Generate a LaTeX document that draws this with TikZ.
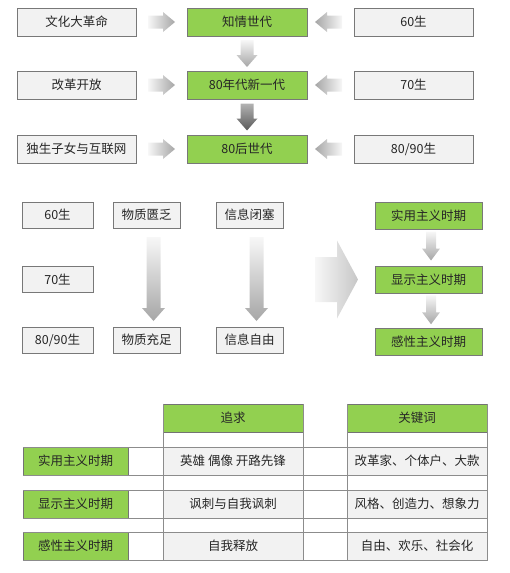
\documentclass[tikz,border=0pt]{standalone}
\usepackage{fontspec}
\setmainfont{Noto Sans CJK SC}
\usetikzlibrary{positioning,calc,shadows}
\definecolor{leaf}{RGB}{146,208,80}
\definecolor{boxline}{RGB}{120,120,120}
\definecolor{cellgray}{RGB}{242,242,242}
% block arrow: centre, rotation, length, shaft half, head half, head length, shading
\newcommand{\blockarrow}[7]{%
  \shade[#7, shift={(#1)}, rotate=#2]
    (-#3/2,-#4) -- ({#3/2-#6},-#4) -- ({#3/2-#6},-#5) -- (#3/2,0)
    -- ({#3/2-#6},#5) -- ({#3/2-#6},#4) -- (-#3/2,#4) -- cycle;}

\begin{document}
\begin{tikzpicture}[x=1pt, y=-1pt,
  font=\fontsize{12.5}{15}\selectfont, text=black!85,
  plain/.style={draw=boxline, fill=cellgray, inner sep=0pt,
    minimum width=119pt, minimum height=28pt,
    drop shadow={shadow xshift=0.8pt, shadow yshift=-0.8pt, opacity=0.3}},
  era/.style={plain, fill=leaf},
  cell/.style={draw=black!45, fill=cellgray, inner sep=0pt,
    minimum width=140pt, minimum height=28pt},
  tag/.style={cell, fill=leaf, draw=black!55},
  grid/.style={draw=black!45, line width=0.6pt},
  fadeR/.style={left color=black!3, right color=black!35},
  fadeL/.style={left color=black!35, right color=black!3},
  fadeD/.style={top color=black!3, bottom color=black!35},
  deepD/.style={top color=black!30, bottom color=black!65},
  wideR/.style={left color=black!3, right color=black!22}]
  \useasboundingbox (0,0) rectangle (510,573);

  % generations
  \node (lf1) [plain] at (76.5,22) {文化大革命};
  \node (lf2) [plain] at (76.5,85) {改革开放};
  \node (lf3) [plain] at (76.5,149) {独生子女与互联网};
  \node (gen1) [era, minimum width=120pt] at (247,22) {知情世代};
  \node (gen2) [era, minimum width=120pt] at (247,85) {80年代新一代};
  \node (gen3) [era, minimum width=120pt] at (247,149) {80后世代};
  \node (yr1) [plain] at (413.5,22) {60生};
  \node (yr2) [plain] at (413.5,85) {70生};
  \node (yr3) [plain] at (413.5,149) {80/90生};
  \foreach \i in {1,2,3} {
    \blockarrow{$(lf\i.east)!0.5!(gen\i.west)$}{0}{27}{6.5}{10}{12}{fadeR}
    \blockarrow{$(gen\i.east)!0.5!(yr\i.west)+(-2,0)$}{180}{27}{6.5}{10}{12}{fadeL}
  }
  \blockarrow{$(gen1.south)!0.5!(gen2.north)$}{-90}{27}{6.5}{10.5}{12}{fadeD}
  \blockarrow{$(gen2.south)!0.5!(gen3.north)$}{-90}{27}{6.5}{10.5}{12}{deepD}

  % change of conditions
  \node (born1) [plain, minimum width=71pt, minimum height=26pt] at (57.5,215) {60生};
  \node (born2) [plain, minimum width=71pt, minimum height=26pt] at (57.5,279.5) {70生};
  \node (born3) [plain, minimum width=71pt, minimum height=26pt] at (57.5,340) {80/90生};
  \node (mat1) [plain, minimum width=67pt, minimum height=26pt] at (146.5,215) {物质匮乏};
  \node (mat2) [plain, minimum width=67pt, minimum height=26pt] at (146.5,340) {物质充足};
  \node (info1) [plain, minimum width=67pt, minimum height=26pt] at (249.5,215) {信息闭塞};
  \node (info2) [plain, minimum width=67pt, minimum height=26pt] at (249.5,340) {信息自由};
  \blockarrow{$(mat1.south)!0.5!(mat2.north)+(7,1.5)$}{-90}{84}{7}{11.5}{13}{fadeD}
  \blockarrow{$(info1.south)!0.5!(info2.north)+(7,1.5)$}{-90}{84}{7}{11.5}{13}{fadeD}
  \coordinate (turn) at (336.5,279.5);
  \blockarrow{turn}{0}{43}{22.5}{39}{21}{wideR}
  \node (phase1) [era, minimum width=107pt, minimum height=27pt] at (428.5,215.5) {实用主义时期};
  \node (phase2) [era, minimum width=107pt, minimum height=27pt] at (428.5,279.5) {显示主义时期};
  \node (phase3) [era, minimum width=107pt, minimum height=27pt] at (428.5,342) {感性主义时期};
  \blockarrow{$(phase1.south)!0.5!(phase2.north)+(2.5,-1.5)$}{-90}{29}{5}{9}{12}{fadeD}
  \blockarrow{$(phase2.south)!0.5!(phase3.north)+(2.5,-1)$}{-90}{29}{5}{9}{12}{fadeD}

  % table
  \node (head1) [tag] at (233,418) {追求};
  \node (head2) [tag] at (417,418) {关键词};
  \node (lab1) [tag, minimum width=105pt] at (75.5,461) {实用主义时期};
  \node (lab2) [tag, minimum width=105pt] at (75.5,504) {显示主义时期};
  \node (lab3) [tag, minimum width=105pt] at (75.5,546) {感性主义时期};
  \node (aim1) [cell] at (233,461) {英雄 偶像 开路先锋};
  \node (aim2) [cell] at (233,504) {讽刺与自我讽刺};
  \node (aim3) [cell] at (233,546) {自我释放};
  \node (key1) [cell] at (417,461) {改革家、个体户、大款};
  \node (key2) [cell] at (417,504) {风格、创造力、想象力};
  \node (key3) [cell] at (417,546) {自由、欢乐、社会化};
  \foreach \i in {1,2,3} {
    \draw[grid] (lab\i.north west) -- (key\i.north east);
    \draw[grid] (lab\i.south west) -- (key\i.south east);
  }
  \draw[grid] (head1.north west) -- (aim3.south west);
  \draw[grid] (head1.north east) -- (aim3.south east);
  \draw[grid] (head2.north west) -- (key3.south west);
  \draw[grid] (head2.north east) -- (key3.south east);
\end{tikzpicture}
\end{document}
